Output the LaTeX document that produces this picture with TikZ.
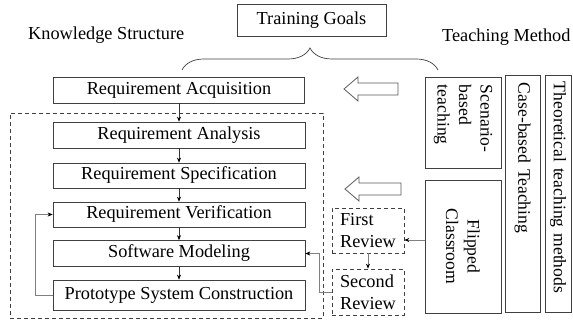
\documentclass[tikz,border=0pt]{standalone}
\usepackage{fontspec}
\setmainfont{Liberation Serif}
\usetikzlibrary{arrows.meta,decorations.pathreplacing,calc}

\begin{document}
\begin{tikzpicture}[x=1pt,y=-1pt,
  every node/.style={font=\fontsize{18.3}{21.5}\selectfont, text=black},
  box/.style={draw=black!75, line width=0.7pt, rectangle, inner sep=0pt},
  vbox/.style={box, rotate=-90, font=\fontsize{17.6}{21.5}\selectfont},
  flow/.style={draw=black!80, line width=0.6pt, -{Stealth[length=5pt,width=4pt,black]}},
  loopline/.style={draw=black!50, line width=0.6pt, -{Stealth[length=5pt,width=4pt,black]}},
  hollow/.style={draw=black!65, line width=0.8pt, fill=white, line join=miter},
  dashframe/.style={draw=black!75, line width=0.7pt, dash pattern=on 4pt off 3pt}]

\useasboundingbox (0,0) rectangle (573,320);

% headings
\node[box, minimum width=149, minimum height=32] (goals) at (311.5,20) {Training Goals};
\node[anchor=base west, inner sep=0pt] (ks) at (28,40) {Knowledge Structure};
\node[anchor=base west, inner sep=0pt] (tm) at (442,42) {Teaching Method};

% brace under the training goals
\coordinate (bl) at (182,70);
\coordinate (br) at (438,70);
\draw[decorate, decoration={brace, amplitude=22pt}, draw=black!75, line width=0.7pt] (bl) -- (br);

% knowledge structure chain
\node[box, minimum width=251, minimum height=26] (acq) at (179,90) {Requirement Acquisition};
\node[dashframe, minimum width=313, minimum height=205, inner sep=0pt] (frame) at (166.5,215.5) {};
\node[box, minimum width=252, minimum height=26] (ana) at (179,135) {Requirement Analysis};
\node[box, minimum width=252, minimum height=25] (spec) at (179,175.5) {Requirement Specification};
\node[box, minimum width=252, minimum height=25] (ver) at (179,214.5) {Requirement Verification};
\node[box, minimum width=252, minimum height=26] (sm) at (179,253.5) {Software Modeling};
\node[box, minimum width=252, minimum height=30] (proto) at (179,295) {Prototype System Construction};

\draw[flow] (acq.south) -- (ana.north);
\draw[flow] (ana.south) -- (spec.north);
\draw[flow] (spec.south) -- (ver.north);
\draw[flow] (ver.south) -- (sm.north);
\draw[flow] (sm.south) -- (proto.north);

% reviews
\node[box, dashframe, minimum width=72, minimum height=45, align=left] (fr) at (368,230.5) {First\\Review};
\node[box, dashframe, minimum width=72, minimum height=46, align=left] (sr) at (368,292) {Second\\Review};

% teaching methods
\node[vbox, minimum width=91, minimum height=76, text width=75pt, inner xsep=8pt, align=left] (scen) at (463,122.5) {Scenario-\\based\\teaching};
\node[vbox, minimum width=133, minimum height=76, align=center] (fc) at (463,246.5) {Flipped\\Classroom};
\node[vbox, minimum width=237, minimum height=35, text width=221pt, inner xsep=8pt, align=left] (case) at (522.5,193.5) {Case-based Teaching};
\node[vbox, minimum width=237, minimum height=26, text width=223pt, inner xsep=7pt, align=left] (theor) at (558,193.5) {Theoretical teaching methods};

% feedback connections
\coordinate (fy) at (0,240);
\draw[loopline] (proto.west) -- ++(-17,0) |- (ver.west);
\draw[loopline] (sr.west) -- ++(-12,0) |- (sm.east);
\draw[loopline] (fc.south |- fy) -- (fr.east |- fy);
\draw[loopline] (fr.south) -- (sr.north);

% hollow arrows from the teaching methods
\draw[hollow] (344,89) -- (358,77) -- (358,83) -- (398,83) -- (398,95) -- (358,95) -- (358,101) -- cycle;
\draw[hollow] (345,189) -- (359,177) -- (359,183) -- (401,183) -- (401,195) -- (359,195) -- (359,201) -- cycle;

\end{tikzpicture}
\end{document}
